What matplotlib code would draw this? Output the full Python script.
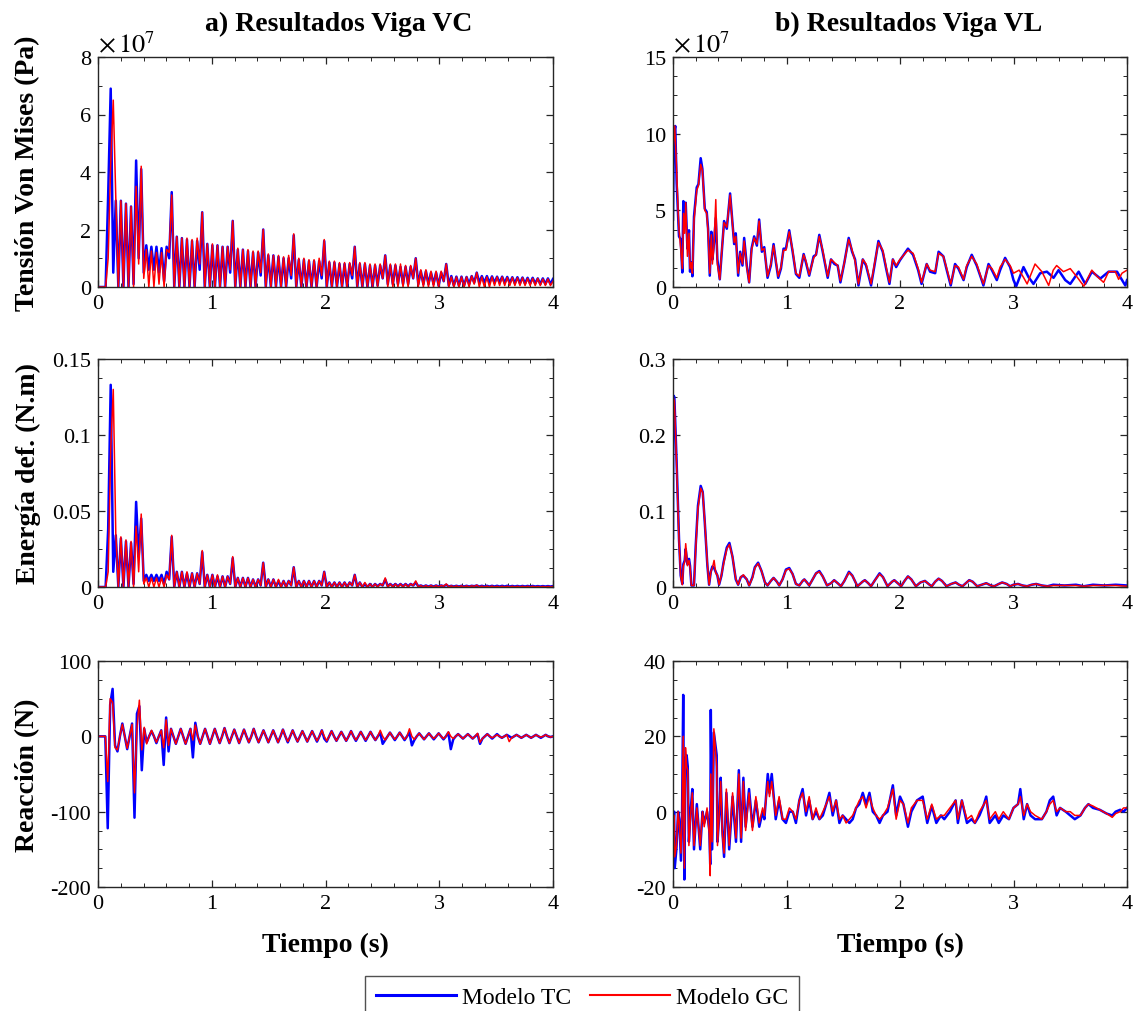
import matplotlib.pyplot as plt
import numpy as np
from matplotlib.ticker import MultipleLocator, FuncFormatter
from matplotlib.lines import Line2D

plt.rcParams['font.family'] = ['Liberation Serif', 'DejaVu Serif']
plt.rcParams['mathtext.fontset'] = 'stix'
plt.rcParams['axes.unicode_minus'] = False

# ---------------- data ----------------
# Viga VC: samples on a regular time grid from 0 to 4 s (one row = one 0.27 s cycle)
# tension von mises, x 1e7 Pa
vc_stress_tc = [
    0, 0, 0, 0, 3.2, 6.9, 0.5, 3.0, 0, 3.0, 0, 2.9,
    0, 2.8, 0.1, 4.4, 1.0, 4.1, 0.5, 1.45, 0.6, 1.4, 0.6, 1.4,
    0.5, 1.35, 0.2, 1.4, 1.0, 3.3, 0, 1.75, 0, 1.7, 0, 1.65,
    0, 1.6, 0, 1.6, 0.6, 2.6, 0, 1.5, 0, 1.45, 0, 1.45,
    0, 1.4, 0, 1.4, 0.5, 2.3, 0, 1.3, 0, 1.3, 0, 1.25,
    0, 1.2, 0, 1.2, 0.4, 2.0, 0, 1.1, 0, 1.1, 0, 1.05,
    0, 1.0, 0, 1.0, 0.3, 1.8, 0, 0.95, 0, 0.95, 0, 0.9,
    0, 0.9, 0, 0.9, 0.3, 1.6, 0, 0.85, 0, 0.85, 0, 0.8,
    0, 0.8, 0, 0.8, 0.3, 1.4, 0, 0.8, 0, 0.8, 0, 0.75,
    0, 0.75, 0.05, 0.75, 0.3, 1.1, 0.1, 0.75, 0.1, 0.75, 0.1, 0.7,
    0.1, 0.7, 0.1, 0.7, 0.3, 1.0, 0.1, 0.55, 0.1, 0.55, 0.1, 0.5,
    0.1, 0.5, 0.05, 0.5, 0.2, 0.8, 0.05, 0.38, 0.05, 0.36, 0.05, 0.36,
    0.05, 0.35, 0.1, 0.38, 0.15, 0.5, 0.15, 0.38, 0.15, 0.38, 0.15, 0.37,
    0.15, 0.36, 0.15, 0.36, 0.14, 0.35, 0.14, 0.34, 0.13, 0.34, 0.13, 0.33,
    0.12, 0.32, 0.12, 0.32, 0.12, 0.3, 0.1, 0.3, 0.1, 0.3, 0.1, 0.28,
]
vc_stress_gc = [
    0, 0, 0, 0, 1.0, 4.3, 6.5, 3.1, 0, 3.0, 0, 2.9,
    0, 2.8, 0, 3.5, 0.8, 4.2, 0.3, 1.3, 0, 1.25, 0, 1.2,
    0.1, 1.2, 0, 1.3, 1.2, 3.2, 0, 1.75, 0, 1.7, 0, 1.7,
    0, 1.65, 0, 1.7, 0.8, 2.6, 0, 1.5, 0, 1.5, 0, 1.45,
    0, 1.4, 0, 1.4, 0.6, 2.3, 0, 1.35, 0, 1.3, 0, 1.3,
    0, 1.25, 0, 1.25, 0.5, 2.0, 0, 1.15, 0, 1.1, 0, 1.1,
    0, 1.05, 0, 1.1, 0.4, 1.85, 0, 1.0, 0, 1.0, 0, 0.95,
    0, 0.95, 0, 1.0, 0.4, 1.65, 0, 0.9, 0, 0.9, 0, 0.85,
    0, 0.85, 0, 0.85, 0.4, 1.4, 0, 0.85, 0, 0.85, 0, 0.8,
    0, 0.8, 0, 0.8, 0.3, 1.1, 0, 0.8, 0, 0.8, 0, 0.8,
    0, 0.75, 0, 0.75, 0.3, 1.0, 0, 0.6, 0, 0.6, 0, 0.55,
    0, 0.55, 0, 0.55, 0.2, 0.8, 0, 0.35, 0, 0.35, 0, 0.35,
    0, 0.35, 0, 0.38, 0.1, 0.5, 0, 0.35, 0, 0.35, 0, 0.35,
    0.05, 0.35, 0.05, 0.35, 0.05, 0.33, 0.05, 0.33, 0.05, 0.32, 0.05, 0.32,
    0.05, 0.3, 0.05, 0.3, 0.05, 0.3, 0.05, 0.28, 0.05, 0.28, 0.05, 0.2,
]

# energia de deformacion, N.m
vc_energy_tc = [
    0, 0, 0, 0, 0.038, 0.133, 0.01, 0.034, 0, 0.032, 0, 0.030,
    0, 0.029, 0.002, 0.056, 0.02, 0.045, 0.004, 0.008, 0.004, 0.008, 0.004, 0.008,
    0.004, 0.008, 0.002, 0.010, 0.005, 0.033, 0, 0.010, 0, 0.010, 0, 0.009,
    0, 0.009, 0, 0.009, 0.002, 0.023, 0, 0.008, 0, 0.008, 0, 0.007,
    0, 0.007, 0, 0.007, 0.002, 0.019, 0, 0.006, 0, 0.006, 0, 0.006,
    0, 0.005, 0, 0.005, 0.001, 0.016, 0, 0.005, 0, 0.005, 0, 0.004,
    0, 0.004, 0, 0.004, 0.001, 0.013, 0, 0.004, 0, 0.004, 0, 0.004,
    0, 0.004, 0, 0.004, 0.001, 0.010, 0, 0.003, 0, 0.003, 0, 0.003,
    0, 0.003, 0, 0.003, 0.001, 0.008, 0, 0.003, 0, 0.002, 0, 0.002,
    0, 0.002, 0.0005, 0.002, 0.001, 0.005, 0.0005, 0.002, 0.0005, 0.002, 0.0005, 0.002,
    0.0005, 0.002, 0.0005, 0.002, 0.001, 0.003, 0.0005, 0.001, 0.0003, 0.001, 0.0003, 0.001,
    0.0003, 0.001, 0.0003, 0.001, 0.0005, 0.0015, 0.0003, 0.0008, 0.0003, 0.0008, 0.0003, 0.0008,
    0.0003, 0.0008, 0.0003, 0.0008, 0.0005, 0.001, 0.0003, 0.0008, 0.0003, 0.0008, 0.0003, 0.0008,
    0.0003, 0.0008, 0.0003, 0.0008, 0.0003, 0.0008, 0.0003, 0.0007, 0.0003, 0.0007, 0.0003, 0.0007,
    0.0003, 0.0007, 0.0003, 0.0007, 0.0003, 0.0006, 0.0003, 0.0006, 0.0003, 0.0006, 0.0003, 0.0006,
]
vc_energy_gc = [
    0, 0, 0, 0, 0.01, 0.09, 0.13, 0.035, 0, 0.033, 0, 0.031,
    0, 0.030, 0, 0.040, 0.01, 0.048, 0.002, 0.006, 0, 0.006, 0, 0.006,
    0, 0.006, 0, 0.008, 0.005, 0.034, 0, 0.010, 0, 0.010, 0, 0.010,
    0, 0.009, 0, 0.009, 0.002, 0.024, 0, 0.008, 0, 0.008, 0, 0.008,
    0, 0.007, 0, 0.007, 0.002, 0.020, 0, 0.006, 0, 0.006, 0, 0.006,
    0, 0.005, 0, 0.005, 0.001, 0.016, 0, 0.005, 0, 0.005, 0, 0.005,
    0, 0.004, 0, 0.004, 0.001, 0.013, 0, 0.004, 0, 0.004, 0, 0.004,
    0, 0.004, 0, 0.004, 0.001, 0.010, 0, 0.003, 0, 0.003, 0, 0.003,
    0, 0.003, 0, 0.003, 0.001, 0.008, 0, 0.003, 0, 0.003, 0, 0.002,
    0, 0.002, 0, 0.002, 0.001, 0.006, 0, 0.002, 0, 0.002, 0, 0.002,
    0, 0.002, 0, 0.002, 0.001, 0.004, 0, 0.001, 0, 0.001, 0, 0.001,
    0, 0.001, 0, 0.001, 0.0005, 0.002, 0, 0.0008, 0, 0.0008, 0, 0.0008,
    0, 0.0008, 0, 0.0008, 0.0003, 0.0012, 0, 0.0006, 0, 0.0006, 0, 0.0006,
    0, 0.0005, 0, 0.0005, 0, 0.0005, 0, 0.0005, 0, 0.0005, 0, 0.0005,
    0, 0.0005, 0, 0.0005, 0, 0.0004, 0, 0.0004, 0, 0.0004, 0, 0.0004,
]

# reaccion, N
vc_reac_tc = [
    0, 0, 0, 0, -122, 42, 63, -12, -20, 0, 17, 0,
    -17, 0, 17, -108, 30, 40, -45, 10, -8, 0, 7, 0,
    -9, 0, 8, -38, 25, -20, 10, 0, -10, 0, 10, 0,
    -10, 0, 10, -28, 18, 0, -10, 0, 10, 0, -10, 0,
    10, 0, -9, 0, 11, 0, -9, 0, 9, 0, -9, 0,
    9, 0, -8, 0, 10, 0, -8, 0, 8, 0, -8, 0,
    8, 0, -8, 0, 9, 0, -8, 0, 8, 0, -7, 0,
    7, 0, -7, 0, 7, 0, -7, 0, 8, -3, -7, 0,
    7, 0, -6, 0, 6, 0, -6, 0, 7, 0, -6, 0,
    6, 0, -6, 0, 6, 0, -5, 0, 5, -10, -5, 0,
    5, 0, -5, 0, 5, 0, -5, 0, 5, -12, -5, 0,
    4, 0, -4, 0, 4, 0, -4, 0, 4, 0, -4, 0,
    5, -17, -4, 0, 3, 0, -3, 0, 3, 0, -3, 0,
    3, -10, -3, 0, 3, 0, -3, 0, 3, 0, -2, 0,
    2, 0, -2, 0, 2, 0, -2, 0, 2, 0, -2, 0,
    2, 0, -2, 0, 2, 0, -1, 0,
]
vc_reac_gc = [
    0, 0, 0, 0, -60, 50, 45, -15, -18, 0, 16, 0,
    -16, 0, 16, -75, 10, 48, -18, 12, -10, 0, 8, 0,
    -8, 0, 8, -15, 22, -12, 10, 0, -10, 0, 10, 0,
    -10, 0, 10, -5, 15, 0, -10, 0, 10, 0, -10, 0,
    10, 0, -9, 0, 11, 0, -9, 0, 9, 0, -9, 0,
    9, 0, -8, 0, 10, 0, -8, 0, 8, 0, -8, 0,
    8, 0, -8, 0, 9, 0, -7, 0, 8, 0, -7, 0,
    7, 0, -7, 0, 7, 0, -6, 0, 8, 0, -6, 0,
    7, 0, -6, 0, 6, 0, -6, 0, 7, 0, -5, 0,
    6, 0, -5, 0, 6, 0, -5, 0, 8, 0, -5, 0,
    5, 0, -4, 0, 5, 0, -4, 0, 10, 0, -4, 0,
    4, 0, -4, 0, 4, 0, -3, 0, 4, 0, -3, 0,
    6, 0, -3, 0, 3, 0, -3, 0, 3, 0, -3, 0,
    4, -8, -3, 0, 3, 0, -2, 0, 2, 0, -2, 0,
    2, -7, -2, 0, 2, 0, -2, 0, 2, 0, -2, 0,
    2, 0, -1, 0, 2, 0, -1, 0,
]

# Viga VL: (tiempo s, valor) read point by point
vl_stress_tc = [
    (0, 4.4), (0.008, 10.0), (0.02, 10.5), (0.032, 6.8), (0.053, 3.3), (0.068, 3.1),
    (0.082, 0.95), (0.091, 5.6), (0.103, 4.0), (0.112, 5.5), (0.127, 2.5), (0.141, 3.7),
    (0.15, 1.0), (0.162, 1.6), (0.171, 0.7), (0.185, 4.6), (0.209, 6.5), (0.224, 6.7),
    (0.244, 8.4), (0.259, 7.7), (0.28, 5.1), (0.297, 4.9), (0.309, 3.8), (0.324, 0.74),
    (0.338, 3.6), (0.347, 1.8), (0.362, 2.9), (0.377, 4.5), (0.391, 1.8), (0.412, 0.5),
    (0.427, 2.0), (0.45, 4.3), (0.474, 3.8), (0.503, 6.1), (0.524, 4.2), (0.539, 2.8),
    (0.553, 3.5), (0.574, 0.74), (0.592, 2.3), (0.612, 1.4), (0.627, 3.2), (0.65, 1.4),
    (0.671, 0.3), (0.692, 2.5), (0.715, 3.3), (0.739, 2.7), (0.759, 4.4), (0.783, 2.3),
    (0.804, 2.6), (0.833, 0.6), (0.862, 1.4), (0.886, 2.8), (0.907, 1.6), (0.927, 0.6),
    (0.951, 1.2), (0.974, 2.5), (0.995, 2.5), (1.024, 3.7), (1.054, 2.3), (1.083, 0.85),
    (1.113, 0.6), (1.151, 2.15), (1.171, 1.6), (1.2, 0.74), (1.239, 2.0), (1.26, 2.1),
    (1.289, 3.4), (1.319, 2.3), (1.363, 0.6), (1.392, 1.8), (1.422, 1.5), (1.451, 1.4),
    (1.475, 0.3), (1.51, 1.6), (1.548, 3.2), (1.578, 2.3), (1.604, 1.8), (1.634, 0.1),
    (1.672, 1.8), (1.701, 1.4), (1.745, 0.1), (1.775, 1.4), (1.81, 3.0), (1.848, 2.3),
    (1.878, 1.2), (1.907, 0.2), (1.937, 1.8), (1.966, 1.3), (2.0, 1.75), (2.07, 2.5),
    (2.115, 2.1), (2.16, 1.1), (2.19, 0.2), (2.235, 1.5), (2.265, 1.0), (2.31, 0.9),
    (2.34, 2.3), (2.382, 2.0), (2.412, 1.1), (2.447, 0.1), (2.485, 1.5), (2.515, 1.2),
    (2.56, 0.45), (2.588, 1.3), (2.632, 2.1), (2.676, 1.4), (2.72, 0.45), (2.735, 0.1),
    (2.78, 1.5), (2.81, 1.1), (2.853, 0.45), (2.882, 1.1), (2.926, 1.9), (2.97, 1.3),
    (3.0, 0.45), (3.024, 0.05), (3.088, 1.3), (3.132, 0.65), (3.176, 0.2), (3.235, 0.9),
    (3.294, 1.0), (3.353, 0.6), (3.397, 1.1), (3.456, 0.45), (3.5, 0.2), (3.574, 1.0),
    (3.632, 0.2), (3.691, 1.0), (3.765, 0.55), (3.838, 1.0), (3.912, 1.0), (3.956, 0.45),
    (3.985, 0.1), (4.0, 0.45),
]
vl_stress_gc = [
    (0, 9.0), (0.015, 10.5), (0.03, 8.0), (0.05, 4.0), (0.068, 2.5), (0.082, 1.2),
    (0.093, 4.8), (0.103, 3.5), (0.112, 5.5), (0.127, 2.0), (0.141, 3.5), (0.15, 1.2),
    (0.162, 1.6), (0.171, 0.9), (0.185, 4.3), (0.209, 6.3), (0.224, 6.6), (0.244, 8.0),
    (0.259, 7.6), (0.28, 5.0), (0.297, 4.8), (0.309, 3.6), (0.324, 0.9), (0.338, 3.4),
    (0.347, 1.5), (0.362, 2.8), (0.377, 5.7), (0.391, 1.5), (0.412, 0.5), (0.427, 2.1),
    (0.45, 4.2), (0.474, 3.9), (0.503, 6.0), (0.524, 4.1), (0.539, 2.9), (0.553, 3.3),
    (0.574, 0.9), (0.592, 2.2), (0.612, 1.5), (0.627, 3.0), (0.65, 1.3), (0.671, 0.3),
    (0.692, 2.4), (0.715, 3.2), (0.739, 2.8), (0.759, 4.3), (0.783, 2.4), (0.804, 2.5),
    (0.833, 0.7), (0.862, 1.5), (0.886, 2.7), (0.907, 1.7), (0.927, 0.7), (0.951, 1.3),
    (0.974, 2.4), (0.995, 2.4), (1.024, 3.6), (1.054, 2.4), (1.083, 0.9), (1.113, 0.7),
    (1.151, 2.1), (1.171, 1.7), (1.2, 0.8), (1.239, 1.9), (1.26, 2.1), (1.289, 3.3),
    (1.319, 2.4), (1.363, 0.7), (1.392, 1.8), (1.422, 1.6), (1.451, 1.4), (1.475, 0.4),
    (1.51, 1.6), (1.548, 3.1), (1.578, 2.4), (1.604, 1.7), (1.634, 0.2), (1.672, 1.8),
    (1.701, 1.5), (1.745, 0.2), (1.775, 1.5), (1.81, 2.9), (1.848, 2.4), (1.878, 1.3),
    (1.907, 0.3), (1.937, 1.8), (1.966, 1.4), (2.0, 1.8), (2.07, 2.4), (2.115, 2.2),
    (2.16, 1.2), (2.19, 0.3), (2.235, 1.5), (2.265, 1.1), (2.31, 1.0), (2.34, 2.2),
    (2.382, 2.0), (2.412, 1.2), (2.447, 0.2), (2.485, 1.4), (2.515, 1.3), (2.56, 0.5),
    (2.588, 1.4), (2.632, 2.0), (2.676, 1.5), (2.72, 0.5), (2.735, 0.2), (2.78, 1.4),
    (2.81, 1.2), (2.853, 0.6), (2.882, 1.3), (2.926, 1.8), (2.97, 1.4), (3.0, 0.9),
    (3.05, 1.1), (3.09, 0.6), (3.12, 0.2), (3.19, 1.5), (3.25, 1.0), (3.31, 0.1),
    (3.35, 1.1), (3.38, 1.4), (3.44, 1.0), (3.5, 1.2), (3.56, 0.65), (3.62, 0.05),
    (3.69, 1.1), (3.735, 0.7), (3.794, 0.3), (3.838, 1.0), (3.897, 1.0), (3.926, 0.5),
    (3.956, 0.9), (4.0, 1.1),
]

vl_energy_tc = [
    (0, 0.064), (0.003, 0.252), (0.012, 0.25), (0.032, 0.164), (0.053, 0.063), (0.068, 0.015),
    (0.082, 0.004), (0.091, 0.03), (0.103, 0.035), (0.112, 0.05), (0.127, 0.03), (0.141, 0.037),
    (0.15, 0.028), (0.162, 0.002), (0.185, 0.002), (0.2, 0.054), (0.22, 0.107), (0.244, 0.133),
    (0.262, 0.125), (0.28, 0.085), (0.303, 0.028), (0.318, 0.003), (0.333, 0.02), (0.347, 0.027),
    (0.362, 0.025), (0.377, 0.02), (0.391, 0.015), (0.406, 0.003), (0.427, 0.015), (0.445, 0.032),
    (0.474, 0.052), (0.497, 0.058), (0.524, 0.04), (0.553, 0.01), (0.574, 0.003), (0.597, 0.013),
    (0.62, 0.015), (0.65, 0.01), (0.671, 0.002), (0.7, 0.013), (0.721, 0.026), (0.75, 0.032),
    (0.78, 0.021), (0.81, 0.006), (0.833, 0.002), (0.862, 0.008), (0.886, 0.012), (0.915, 0.007),
    (0.936, 0.002), (0.965, 0.01), (0.995, 0.023), (1.024, 0.025), (1.054, 0.017), (1.083, 0.004),
    (1.113, 0.002), (1.142, 0.008), (1.157, 0.01), (1.18, 0.006), (1.2, 0.002), (1.23, 0.01),
    (1.26, 0.018), (1.289, 0.021), (1.319, 0.014), (1.357, 0.002), (1.392, 0.005), (1.42, 0.009),
    (1.451, 0.005), (1.48, 0.001), (1.51, 0.008), (1.55, 0.02), (1.58, 0.015), (1.625, 0.001),
    (1.67, 0.007), (1.69, 0.009), (1.72, 0.005), (1.745, 0.001), (1.775, 0.008), (1.82, 0.018),
    (1.85, 0.013), (1.89, 0.001), (1.93, 0.007), (1.95, 0.009), (1.98, 0.005), (2.01, 0.001),
    (2.04, 0.008), (2.07, 0.014), (2.1, 0.01), (2.14, 0.001), (2.18, 0.006), (2.22, 0.008),
    (2.26, 0.003), (2.28, 0.001), (2.31, 0.007), (2.34, 0.011), (2.37, 0.008), (2.41, 0.001),
    (2.45, 0.004), (2.49, 0.006), (2.52, 0.003), (2.55, 0.001), (2.58, 0.005), (2.61, 0.009),
    (2.64, 0.007), (2.68, 0.001), (2.72, 0.003), (2.76, 0.005), (2.8, 0.002), (2.83, 0.001),
    (2.87, 0.004), (2.9, 0.006), (2.94, 0.004), (2.97, 0.001), (3.0, 0.003), (3.04, 0.004),
    (3.08, 0.002), (3.12, 0.001), (3.16, 0.003), (3.2, 0.004), (3.25, 0.002), (3.3, 0.001),
    (3.35, 0.003), (3.45, 0.002), (3.55, 0.003), (3.62, 0.001), (3.7, 0.003), (3.8, 0.002),
    (3.9, 0.003), (4.0, 0.002),
]
vl_energy_gc = [
    (0, 0.25), (0.012, 0.245), (0.032, 0.16), (0.053, 0.06), (0.068, 0.014), (0.082, 0.003),
    (0.091, 0.028), (0.103, 0.033), (0.112, 0.057), (0.127, 0.028), (0.141, 0.035), (0.15, 0.026),
    (0.162, 0.002), (0.185, 0.002), (0.2, 0.05), (0.22, 0.103), (0.244, 0.13), (0.262, 0.124),
    (0.28, 0.086), (0.303, 0.03), (0.318, 0.003), (0.333, 0.02), (0.347, 0.025), (0.362, 0.035),
    (0.377, 0.018), (0.391, 0.016), (0.406, 0.003), (0.427, 0.016), (0.445, 0.03), (0.474, 0.05),
    (0.497, 0.056), (0.524, 0.04), (0.553, 0.011), (0.574, 0.003), (0.597, 0.013), (0.62, 0.016),
    (0.65, 0.01), (0.671, 0.002), (0.7, 0.012), (0.721, 0.025), (0.75, 0.031), (0.78, 0.021),
    (0.81, 0.006), (0.833, 0.002), (0.862, 0.008), (0.886, 0.012), (0.915, 0.007), (0.936, 0.002),
    (0.965, 0.01), (0.995, 0.022), (1.024, 0.024), (1.054, 0.017), (1.083, 0.004), (1.113, 0.002),
    (1.142, 0.008), (1.157, 0.01), (1.18, 0.006), (1.2, 0.002), (1.23, 0.01), (1.26, 0.018),
    (1.289, 0.02), (1.319, 0.014), (1.357, 0.002), (1.392, 0.005), (1.42, 0.009), (1.451, 0.005),
    (1.48, 0.001), (1.51, 0.008), (1.55, 0.019), (1.58, 0.015), (1.625, 0.001), (1.67, 0.007),
    (1.69, 0.009), (1.72, 0.005), (1.745, 0.001), (1.775, 0.008), (1.82, 0.017), (1.85, 0.013),
    (1.89, 0.001), (1.93, 0.007), (1.95, 0.009), (1.98, 0.005), (2.01, 0.001), (2.04, 0.008),
    (2.07, 0.014), (2.1, 0.01), (2.14, 0.001), (2.18, 0.006), (2.22, 0.008), (2.26, 0.003),
    (2.28, 0.001), (2.31, 0.007), (2.34, 0.011), (2.37, 0.008), (2.41, 0.001), (2.45, 0.004),
    (2.49, 0.006), (2.52, 0.003), (2.55, 0.001), (2.58, 0.005), (2.61, 0.009), (2.64, 0.007),
    (2.68, 0.001), (2.72, 0.003), (2.76, 0.005), (2.8, 0.002), (2.83, 0.001), (2.87, 0.004),
    (2.9, 0.006), (2.94, 0.004), (2.97, 0.001), (3.0, 0.003), (3.04, 0.004), (3.08, 0.002),
    (3.12, 0.001), (3.16, 0.003), (3.2, 0.004), (3.25, 0.002), (3.3, 0.001), (3.35, 0.002),
    (3.45, 0.002), (3.55, 0.002), (3.62, 0.001), (3.7, 0.002), (3.8, 0.002), (3.9, 0.002),
    (4.0, 0.001),
]

vl_reac_tc = [
    (0, -5), (0.01, 0), (0.015, -15), (0.03, -10), (0.045, 0), (0.055, -2), (0.07, -13),
    (0.08, 0), (0.09, 31), (0.1, -18), (0.11, 14), (0.12, 15), (0.13, 12), (0.14, -8),
    (0.155, 0), (0.17, 6), (0.185, -10), (0.21, 2), (0.24, -10), (0.26, 0), (0.275, -3),
    (0.3, 0), (0.32, -5), (0.328, -14), (0.333, 27), (0.345, -10), (0.36, 21), (0.385, 15),
    (0.392, -8), (0.41, 0), (0.42, 9), (0.435, -5), (0.45, -12), (0.47, 5), (0.495, -10),
    (0.525, 4), (0.555, -8), (0.58, 11), (0.6, -8), (0.62, 9), (0.64, -4), (0.67, 6),
    (0.7, -4), (0.73, 3), (0.76, -4), (0.79, 0), (0.805, -2), (0.835, 10), (0.85, 5),
    (0.87, 10), (0.905, -2), (0.935, 3), (0.965, -2), (0.995, -3), (1.025, 0), (1.055, 0),
    (1.083, -3), (1.113, 3), (1.142, 6), (1.172, -1), (1.2, 3), (1.23, -2), (1.26, 0),
    (1.29, -2), (1.32, -1), (1.35, 2), (1.378, 5), (1.407, -1), (1.437, 3), (1.466, -3),
    (1.495, -1), (1.525, -2), (1.554, -3), (1.583, -2), (1.613, 1), (1.642, 2), (1.672, 5),
    (1.701, 2), (1.731, 5), (1.76, 0), (1.79, -1), (1.82, -3), (1.85, -1), (1.89, 0),
    (1.937, 7), (1.966, -1), (2.0, 4), (2.03, 2), (2.07, -4), (2.1, 0), (2.15, 3), (2.2, 4),
    (2.24, -3), (2.28, 1.5), (2.32, -3), (2.36, -1), (2.39, -2), (2.44, 0), (2.49, 3),
    (2.51, -3), (2.545, 3), (2.59, -3), (2.63, -2), (2.66, -3), (2.7, -1), (2.74, 2),
    (2.76, 4), (2.79, -3), (2.84, -1), (2.87, -3), (2.91, -1), (2.96, -2), (3.0, 1),
    (3.04, 2), (3.06, 6), (3.09, -2), (3.12, 2), (3.15, -1), (3.19, -2), (3.25, -2),
    (3.29, 0), (3.32, 3), (3.35, 4), (3.38, -1), (3.41, 1), (3.46, 0), (3.5, -1),
    (3.54, -2), (3.59, -1), (3.63, 1), (3.66, 2), (3.7, 1), (3.76, 0.5), (3.82, -0.5),
    (3.87, -1), (3.9, 0), (3.94, 0.5), (3.97, 0), (4.0, 1),
]
vl_reac_gc = [
    (0, -5), (0.01, -1), (0.015, -12), (0.03, -9), (0.045, 0), (0.055, -3), (0.07, -11),
    (0.08, -1), (0.09, 20), (0.1, -15), (0.11, 17), (0.12, 12), (0.13, 11), (0.14, -9),
    (0.155, -1), (0.17, 5), (0.185, -9), (0.21, 1), (0.24, -9), (0.26, 0), (0.275, -4),
    (0.3, 1), (0.32, -6), (0.328, -17), (0.333, 10), (0.345, -8), (0.36, 22), (0.385, 12),
    (0.392, -9), (0.41, 1), (0.42, 8), (0.435, -6), (0.45, -11), (0.47, 6), (0.495, -9),
    (0.525, 5), (0.555, -7), (0.58, 10), (0.6, -7), (0.62, 8), (0.64, -5), (0.67, 5),
    (0.7, -5), (0.73, 4), (0.76, -3), (0.79, 1), (0.805, -1), (0.835, 8), (0.85, 4),
    (0.87, 8), (0.905, -1), (0.935, 4), (0.965, -2), (0.995, -2), (1.025, 1), (1.055, 0),
    (1.083, -2), (1.113, 3), (1.142, 5), (1.172, 0), (1.2, 4), (1.23, -2), (1.26, 1),
    (1.29, -2), (1.32, 0), (1.35, 2), (1.378, 4), (1.407, 0), (1.437, 3), (1.466, -2),
    (1.495, -1), (1.525, -3), (1.554, -2), (1.583, -1), (1.613, 1), (1.642, 3), (1.672, 4),
    (1.701, 1), (1.731, 4), (1.76, 1), (1.79, -1), (1.82, -2), (1.85, -1), (1.89, 1),
    (1.937, 6), (1.966, -2), (2.0, 3), (2.03, 2), (2.07, -3), (2.1, 1), (2.15, 3), (2.2, 3),
    (2.24, -2), (2.28, 2), (2.32, -2), (2.36, -1), (2.39, -1), (2.44, 1), (2.49, 3),
    (2.51, -2), (2.545, 3), (2.59, -2), (2.63, -1), (2.66, -3), (2.7, 0), (2.74, 2),
    (2.76, 3), (2.79, -2), (2.84, 0), (2.87, -2), (2.91, 0), (2.96, -2), (3.0, 1),
    (3.04, 2), (3.06, 4), (3.09, -1), (3.12, 2), (3.15, 0), (3.19, -1), (3.25, -2),
    (3.29, 0), (3.32, 2), (3.35, 3), (3.38, 0), (3.41, 1), (3.46, 0), (3.5, 0),
    (3.54, -1), (3.59, -1), (3.63, 1), (3.66, 2), (3.7, 1.5), (3.76, 0.5), (3.82, -0.5),
    (3.87, -1.5), (3.9, -0.5), (3.94, 0), (3.97, 1), (4.0, 1),
]

titles = ['a) Resultados Viga VC', 'b) Resultados Viga VL']
ylabels = ['Tensión Von Mises (Pa)', 'Energía def. (N.m)', 'Reacción (N)']
legend_labels = ['Modelo TC', 'Modelo GC']

# ---------------- figure ----------------
fig = plt.figure(figsize=(11.35, 10.12), dpi=100)
W, H = 1135.0, 1012.0
cols = [(98, 553), (673, 1127)]
rows = [(58, 288), (360, 588), (662, 888)]

blue = '#0000ff'
red = '#ff0000'
ink = '#262626'

axes = {}
for r, (top, bot) in enumerate(rows):
    for c, (lft, rgt) in enumerate(cols):
        ax = fig.add_axes([lft / W, 1 - bot / H, (rgt - lft) / W, (bot - top) / H])
        axes[(r, c)] = ax


def grid_t(vals):
    return np.linspace(0, 4, len(vals))


def unzip(pairs):
    arr = np.array(pairs, dtype=float)
    return arr[:, 0], arr[:, 1]


def draw(ax, t1, y1, t2, y2):
    ax.plot(t1, y1, color=blue, lw=1.8)
    ax.plot(t2, y2, color=red, lw=1.1)


draw(axes[(0, 0)], grid_t(vc_stress_tc), vc_stress_tc, grid_t(vc_stress_gc), vc_stress_gc)
draw(axes[(1, 0)], grid_t(vc_energy_tc), vc_energy_tc, grid_t(vc_energy_gc), vc_energy_gc)
draw(axes[(2, 0)], grid_t(vc_reac_tc), vc_reac_tc, grid_t(vc_reac_gc), vc_reac_gc)

tb, yb = unzip(vl_stress_tc)
tr, yr = unzip(vl_stress_gc)
draw(axes[(0, 1)], tb, yb, tr, yr)
tb, yb = unzip(vl_energy_tc)
tr, yr = unzip(vl_energy_gc)
draw(axes[(1, 1)], tb, yb, tr, yr)
tb, yb = unzip(vl_reac_tc)
tr, yr = unzip(vl_reac_gc)
draw(axes[(2, 1)], tb, yb, tr, yr)

# limits, major step, minor step
yset = {
    (0, 0): ((0, 8), 2, 1),
    (0, 1): ((0, 15), 5, 1.25),
    (1, 0): ((0, 0.15), 0.05, 0.0125),
    (1, 1): ((0, 0.3), 0.1, 0.025),
    (2, 0): ((-200, 100), 100, 25),
    (2, 1): ((-20, 40), 20, 5),
}

fmt = FuncFormatter(lambda v, p: '%g' % round(v, 6))
for key, ax in axes.items():
    lim, maj, mnr = yset[key]
    ax.set_xlim(0, 4)
    ax.set_ylim(lim)
    ax.xaxis.set_major_locator(MultipleLocator(1))
    ax.xaxis.set_minor_locator(MultipleLocator(0.2))
    ax.yaxis.set_major_locator(MultipleLocator(maj))
    ax.yaxis.set_minor_locator(MultipleLocator(mnr))
    ax.xaxis.set_major_formatter(fmt)
    ax.yaxis.set_major_formatter(fmt)
    ax.tick_params(which='both', direction='in', top=True, right=True,
                   color=ink, labelcolor='black', labelsize=16, pad=5)
    ax.tick_params(which='major', length=5, width=0.9)
    ax.tick_params(which='minor', length=3, width=0.7)
    for s in ax.spines.values():
        s.set_color(ink)
        s.set_linewidth(1.0)

for c in range(2):
    ax = axes[(0, c)]
    ax.text(0.0, 1.0, r'$\times\,10^{7}$', transform=ax.transAxes,
            ha='left', va='bottom', fontsize=19)
    ax.text([0.53, 0.52][c], 1.118, titles[c], transform=ax.transAxes,
            ha='center', va='baseline', fontsize=20, fontweight='bold')
    axb = axes[(2, c)]
    axb.set_xlabel('Tiempo (s)', fontsize=20, fontweight='bold')
    axb.xaxis.set_label_coords(0.5, -57 / 226)
    axb.xaxis.label.set_va('center')

for r in range(3):
    ax = axes[(r, 0)]
    ax.set_ylabel(ylabels[r], fontsize=20, fontweight='bold')
    ax.yaxis.set_label_coords(-70 / 455, 0.5)
    ax.yaxis.label.set_va('center')

handles = [Line2D([], [], color=blue, lw=2.2), Line2D([], [], color=red, lw=1.5)]
leg = fig.legend(handles, legend_labels, loc='upper center',
                 bbox_to_anchor=(582 / W, 1 - 977 / H), borderaxespad=0,
                 ncol=2, frameon=True, fancybox=False, edgecolor=ink,
                 fontsize=17, handlelength=3.4, handletextpad=0.25,
                 columnspacing=0.8, borderpad=0.45)
leg.get_frame().set_linewidth(1.0)

fig.savefig('out.png', dpi=100)
